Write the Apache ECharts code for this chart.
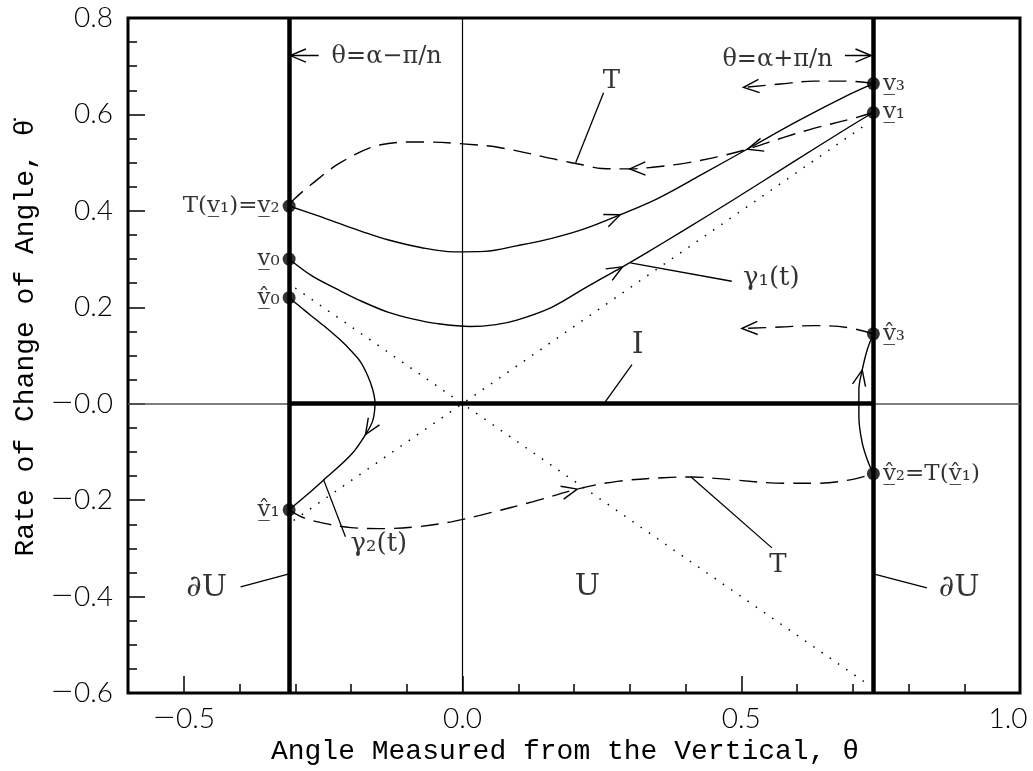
<!DOCTYPE html>
<html><head><meta charset="utf-8">
<script src="https://cdn.jsdelivr.net/npm/echarts@6/dist/echarts.min.js"></script>
<style>html,body{margin:0;padding:0;background:#fff;overflow:hidden}#c{width:1033px;height:771px}</style>
</head><body><div id="c"></div>
<script>
// ---------- tick labels ----------
const X_TICKS = [-0.5, 0.0, 0.5, 1.0];
const X_TICK_LABELS = ['−0.5', '0.0', '0.5', '1.0'];
const Y_TICKS = [-0.6, -0.4, -0.2, 0.0, 0.2, 0.4, 0.6, 0.8];
const Y_TICK_LABELS = ['−0.6', '−0.4', '−0.2', '−0.0', '0.2', '0.4', '0.6', '0.8'];

// ---------- boundaries of U ----------
const THETA_LEFT = -0.311;   // θ = α − π/n
const THETA_RIGHT = 0.737;   // θ = α + π/n

// ---------- trajectories (θ, θ̇) ----------
const UPPER_SOLID = [[-0.311,0.41],[-0.26,0.39],[-0.224,0.375],[-0.18,0.357],[-0.134,0.34],[-0.075,0.324],[-0.016,0.315],[0.04,0.316],[0.099,0.328],[0.16,0.343],[0.217,0.362],[0.283,0.392],[0.349,0.425],[0.427,0.474],[0.52,0.534],[0.606,0.589],[0.695,0.642],[0.737,0.664]];
const GAMMA_1 = [[-0.311,0.30],[-0.27,0.265],[-0.224,0.237],[-0.18,0.212],[-0.134,0.19],[-0.09,0.176],[-0.045,0.166],[0.014,0.16],[0.06,0.164],[0.099,0.174],[0.16,0.2],[0.217,0.238],[0.25,0.26],[0.287,0.284],[0.33,0.313],[0.396,0.359],[0.486,0.423],[0.59,0.499],[0.695,0.575],[0.737,0.604]];
const GAMMA_2 = [[-0.311,0.22],[-0.29,0.2],[-0.272,0.183],[-0.245,0.158],[-0.219,0.132],[-0.2,0.11],[-0.183,0.087],[-0.17,0.058],[-0.161,0.029],[-0.157,0.002],[-0.161,-0.035],[-0.174,-0.064],[-0.2,-0.106],[-0.249,-0.158],[-0.28,-0.19],[-0.311,-0.22]];
const RETURN_HAT = [[0.737,-0.145],[0.728,-0.122],[0.717,-0.081],[0.711,-0.027],[0.711,0.029],[0.717,0.07],[0.726,0.112],[0.737,0.145]];
// ---------- map T (dashed) ----------
const T_UPPER = [[0.737,0.604],[0.695,0.59],[0.63,0.571],[0.575,0.552],[0.511,0.528],[0.457,0.512],[0.4,0.499],[0.337,0.49],[0.3,0.487],[0.25,0.488],[0.217,0.495],[0.17,0.506],[0.068,0.531],[0,0.539],[-0.075,0.543],[-0.147,0.537],[-0.219,0.5],[-0.272,0.454],[-0.303,0.423],[-0.311,0.41]];
const T_TOP = [[0.737,0.664],[0.69,0.669],[0.63,0.669],[0.57,0.663],[0.504,0.656]];
const T_HAT3 = [[0.737,0.145],[0.69,0.158],[0.63,0.162],[0.57,0.159],[0.501,0.156]];
const T_LOWER = [[-0.311,-0.22],[-0.29,-0.234],[-0.26,-0.245],[-0.2,-0.257],[-0.14,-0.259],[-0.08,-0.255],[-0.02,-0.245],[0.04,-0.229],[0.127,-0.203],[0.206,-0.177],[0.278,-0.161],[0.367,-0.153],[0.41,-0.152],[0.486,-0.158],[0.575,-0.165],[0.636,-0.165],[0.695,-0.158],[0.737,-0.145]];
// ---------- dotted diagonals ----------
const DIAG_UP = [[-0.303,-0.242],[0.72,0.576]];
const DIAG_DOWN = [[-0.3,0.24],[0.731,-0.585]];
// ---------- θ boundary arrows ----------
const THETA_ARROW_LEFT = [[-0.258,0.722],[-0.309,0.722]];
const THETA_ARROW_RIGHT = [[0.686,0.722],[0.733,0.722]];

// ---------- points on ∂U ----------
const LEFT_DOTS = [0.41, 0.30, 0.22, -0.22];
const LEFT_DOT_LABELS = ['T(v̲₁)=v̲₂', 'v̲₀', 'v̲̂₀', 'v̲̂₁'];
const RIGHT_DOTS = [0.664, 0.604, 0.145, -0.145];
const RIGHT_DOT_LABELS = ['v̲₃', 'v̲₁', 'v̲̂₃', 'v̲̂₂=T(v̲̂₁)'];

// ---------- leader lines ----------
const LEADERS = [
  [[0.253,0.645],[0.203,0.5]],
  [[0.301,0.292],[0.483,0.254]],
  [[0.304,0.081],[0.256,0.004]],
  [[-0.249,-0.158],[-0.21,-0.276]],
  [[0.41,-0.152],[0.555,-0.299]],
  [[-0.311,-0.353],[-0.398,-0.38]],
  [[0.737,-0.353],[0.833,-0.382]]
];
// ---------- annotation texts ----------
const NOTE_TEXT = ['θ=α−π/n', 'θ=α+π/n', 'T', 'γ₁(t)', 'I', 'γ₂(t)', 'T', 'U', '∂U', '∂U'];
const NOTE_AT = [[-0.136,0.72],[0.565,0.714],[0.267,0.668],[0.554,0.261],[0.314,0.122],[-0.15,-0.292],[0.566,-0.336],[0.224,-0.38],[-0.459,-0.382],[0.891,-0.382]];

// ---------- arrowheads (tip index, direction from → to) ----------
const CURVES = {UPPER_SOLID, GAMMA_1, GAMMA_2, RETURN_HAT, T_UPPER, T_TOP, T_HAT3, T_LOWER, THETA_ARROW_LEFT, THETA_ARROW_RIGHT};
const ARROWS = [
  ['UPPER_SOLID', 11, 10, 12],
  ['GAMMA_1', 13, 12, 14],
  ['GAMMA_2', 11, 10, 12],
  ['RETURN_HAT', 5, 4, 6],
  ['T_UPPER', 4, 3, 5],
  ['T_UPPER', 8, 7, 9],
  ['T_TOP', 4, 3, 4],
  ['T_HAT3', 4, 3, 4],
  ['T_LOWER', 9, 8, 10],
  ['THETA_ARROW_LEFT', 1, 0, 1],
  ['THETA_ARROW_RIGHT', 1, 0, 1]
];

// ================= build options =================
const SERIF = '"DejaVu Serif", serif';
const NOTE_SIZE = [24, 24, 26, 26, 30, 26, 26, 30, 30, 30];

function curve(data, dashed) {
  return {type: 'line', data, smooth: 0.35, symbol: 'none', showSymbol: false, silent: true, z: 4,
    lineStyle: {color: '#000', width: 1.4, opacity: 1, type: dashed ? [18, 9] : 'solid'}};
}

const straight = [
  {coords: [[-0.6, 0], [1.0, 0]], lineStyle: {color: '#555', width: 1.6, opacity: 1}},
  {coords: [[0, -0.6], [0, 0.8]], lineStyle: {color: '#000', width: 1.2, opacity: 1}},
  {coords: [[THETA_LEFT, 0], [THETA_RIGHT, 0]], lineStyle: {color: '#000', width: 4.5, opacity: 1}},
  {coords: [[THETA_LEFT, -0.6], [THETA_LEFT, 0.8]], lineStyle: {color: '#000', width: 4.5, opacity: 1}},
  {coords: [[THETA_RIGHT, -0.6], [THETA_RIGHT, 0.8]], lineStyle: {color: '#000', width: 4.5, opacity: 1}}
];
const leaders = LEADERS.concat([THETA_ARROW_LEFT, THETA_ARROW_RIGHT]).map(c => ({coords: c}));

const arrowData = ARROWS.map(([name, at, f, t]) => {
  const c = CURVES[name];
  return [c[at][0], c[at][1], c[f][0], c[f][1], c[t][0], c[t][1]];
});

const tickFont = {fontFamily: 'Lato, "DejaVu Sans", sans-serif', fontWeight: 300, fontSize: 28, color: '#000'};
const minusStyle = {fontFamily: '"DejaVu Sans", sans-serif', fontWeight: 200, fontSize: 28, color: '#000'};
function withMinus(s) {
  return s.charAt(0) === '−' ? '{m|−}' + s.slice(1) : s;
}

const option = {
  animation: false,
  grid: {left: 128, right: 13, top: 18, bottom: 78, show: true, borderColor: '#000', borderWidth: 3,
    backgroundColor: 'transparent', containLabel: false, outerBoundsMode: 'none'},
  xAxis: [
    {type: 'value', min: -0.6, max: 1.0, interval: 0.1,
      axisLine: {show: false, onZero: false}, splitLine: {show: false}, axisLabel: {show: false},
      axisTick: {show: true, inside: true, length: 9, lineStyle: {color: '#000', width: 1.5}}},
    {type: 'value', min: -0.6, max: 1.0, position: 'bottom',
      axisLine: {show: false, onZero: false}, splitLine: {show: false},
      axisTick: {show: true, inside: true, length: 17, customValues: X_TICKS, lineStyle: {color: '#000', width: 1.5}},
      axisLabel: Object.assign({show: true, margin: 12, customValues: X_TICKS,
        formatter: v => {
          const i = X_TICKS.findIndex(t => Math.abs(t - v) < 1e-6);
          if (i < 0) return '';
          return i === X_TICKS.length - 1 ? '{last|' + X_TICK_LABELS[i] + '}' : withMinus(X_TICK_LABELS[i]);
        },
        rich: {last: Object.assign({padding: [0, 24, 0, 0]}, tickFont), m: minusStyle}}, tickFont)}
  ],
  yAxis: [
    {type: 'value', min: -0.6, max: 0.8, interval: 0.2,
      axisLine: {show: false, onZero: false}, splitLine: {show: false},
      axisTick: {show: true, inside: true, length: 17, lineStyle: {color: '#000', width: 1.5}},
      minorTick: {show: true, splitNumber: 4, length: 9, lineStyle: {color: '#000', width: 1.5}},
      axisLabel: Object.assign({margin: 15,
        formatter: v => withMinus(Y_TICK_LABELS[Y_TICKS.findIndex(t => Math.abs(t - v) < 1e-6)] ?? ''),
        rich: {m: minusStyle}}, tickFont)}
  ],
  graphic: [
    {type: 'text', x: 565, y: 738,
      style: {text: 'Angle Measured from the Vertical, θ', font: '28px "Liberation Mono", monospace', fill: '#000', align: 'center', verticalAlign: 'top'}},
    {type: 'text', x: 12, y: 338, rotation: Math.PI / 2,
      style: {text: 'Rate of Change of Angle, θ̇', font: '28px "Liberation Mono", monospace', fill: '#000', align: 'center', verticalAlign: 'top'}}
  ],
  series: [
    {type: 'lines', coordinateSystem: 'cartesian2d', data: straight, silent: true, z: 2, symbol: 'none',
      lineStyle: {opacity: 1}},
    {type: 'line', data: DIAG_UP, symbol: 'none', silent: true, z: 3, lineStyle: {color: '#000', width: 1.5, type: [1.5, 8.5]}},
    {type: 'line', data: DIAG_DOWN, symbol: 'none', silent: true, z: 3, lineStyle: {color: '#000', width: 1.5, type: [1.5, 8.5]}},
    curve(UPPER_SOLID, false),
    curve(GAMMA_1, false),
    curve(GAMMA_2, false),
    curve(RETURN_HAT, false),
    curve(T_UPPER, true),
    curve(T_TOP, true),
    curve(T_HAT3, true),
    curve(T_LOWER, true),
    {type: 'lines', coordinateSystem: 'cartesian2d', data: leaders, silent: true, z: 4, symbol: 'none',
      lineStyle: {color: '#000', width: 1.3, opacity: 1}},
    {type: 'custom', data: arrowData, silent: true, z: 5,
      encode: {x: [0, 2, 4], y: [1, 3, 5]},
      renderItem: (params, api) => {
        const tip = api.coord([api.value(0), api.value(1)]);
        const a = api.coord([api.value(2), api.value(3)]);
        const b = api.coord([api.value(4), api.value(5)]);
        const ang = Math.atan2(b[1] - a[1], b[0] - a[0]);
        const L = 17, h = 0.4;
        const p1 = [tip[0] - L * Math.cos(ang - h), tip[1] - L * Math.sin(ang - h)];
        const p2 = [tip[0] - L * Math.cos(ang + h), tip[1] - L * Math.sin(ang + h)];
        return {type: 'polyline', shape: {points: [p1, tip, p2]}, style: {stroke: '#000', lineWidth: 1.4, fill: null}};
      }},
    {type: 'scatter', symbol: 'circle', symbolSize: 13, silent: true, z: 6, itemStyle: {color: '#000'},
      data: LEFT_DOTS.map((y, i) => ({value: [THETA_LEFT, y],
        label: {show: true, position: 'left', distance: 3, formatter: LEFT_DOT_LABELS[i], fontFamily: SERIF, fontSize: 23, color: '#000'}}))
        .concat(RIGHT_DOTS.map((y, i) => ({value: [THETA_RIGHT, y],
        label: {show: true, position: 'right', distance: 3, formatter: RIGHT_DOT_LABELS[i], fontFamily: SERIF, fontSize: 23, color: '#000'}})))},
    {type: 'scatter', symbolSize: 1, silent: true, z: 6, itemStyle: {color: 'rgba(0,0,0,0)'},
      data: NOTE_AT.map((p, i) => ({value: p,
        label: {show: true, position: 'inside', formatter: NOTE_TEXT[i], fontFamily: SERIF, fontSize: NOTE_SIZE[i], color: '#000'}}))}
  ]
};
const chart = echarts.init(document.getElementById('c'), null, {renderer: 'canvas'});
chart.setOption(option);
</script>
</body></html>
